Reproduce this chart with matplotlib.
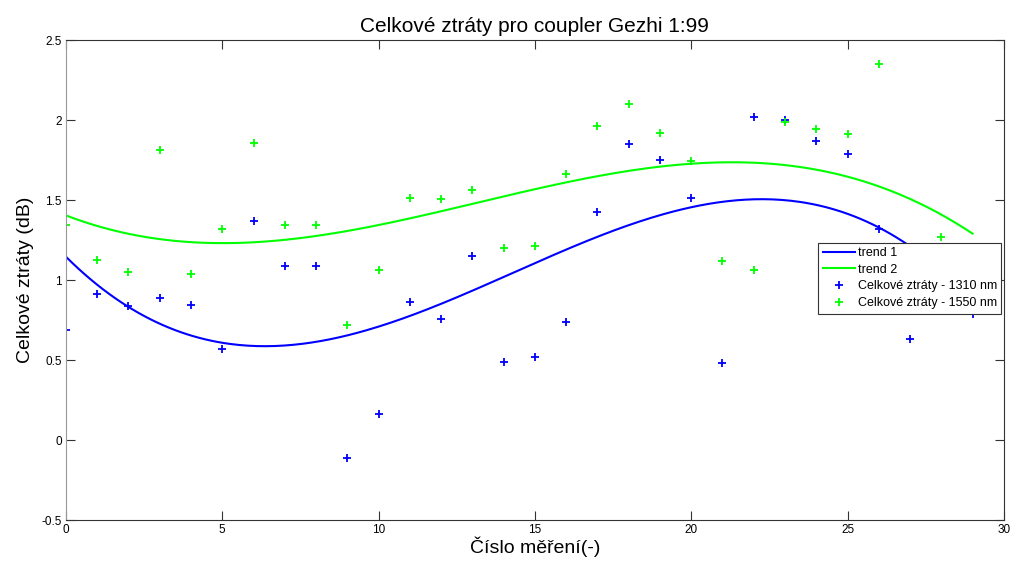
import numpy as np
import matplotlib
matplotlib.use("Agg")
import matplotlib.pyplot as plt
from matplotlib.ticker import FuncFormatter

plt.rcParams["font.family"] = ["Liberation Sans", "DejaVu Sans"]

# Measurement index
measurement = list(range(30))

# Total losses at 1310 nm (dB)
loss_1310 = [0.69, 0.91, 0.84, 0.885, 0.845, 0.57, 1.37, 1.09, 1.085, -0.11,
             0.16, 0.86, 0.755, 1.15, 0.49, 0.52, 0.735, 1.425, 1.85, 1.75,
             1.51, 0.48, 2.02, 2.00, 1.87, 1.79, 1.32, 0.63, 1.00, 0.79]

# Total losses at 1550 nm (dB)
loss_1550 = [1.345, 1.125, 1.05, 1.81, 1.035, 1.32, 1.855, 1.345, 1.345, 0.72,
             1.065, 1.51, 1.505, 1.56, 1.20, 1.21, 1.665, 1.96, 2.10, 1.92,
             1.745, 1.12, 1.065, 1.985, 1.945, 1.91, 2.35, 1.00, 1.27, 1.20]

x = np.array(measurement, dtype=float)
y1 = np.array(loss_1310)
y2 = np.array(loss_1550)

# Cubic trend lines
xs = np.linspace(x.min(), x.max(), 300)
trend1 = np.polyval(np.polyfit(x, y1, 3), xs)
trend2 = np.polyval(np.polyfit(x, y2, 3), xs)

fig = plt.figure(figsize=(10.15, 5.65), dpi=100)
ax = fig.add_axes([0.065, 0.0796, 0.924, 0.8496])

ax.plot(xs, trend1, color="#0000ff", lw=1.5, label="trend 1")
ax.plot(xs, trend2, color="#00ff00", lw=1.5, label="trend 2")
ax.plot(x, y1, "+", color="#0000ff", ms=6, mew=1.3, label="Celkové ztráty - 1310 nm")
ax.plot(x, y2, "+", color="#00ff00", ms=6, mew=1.3, label="Celkové ztráty - 1550 nm")

ax.set_xlim(0, 30)
ax.set_ylim(-0.5, 2.5)
ax.set_xticks(np.arange(0, 31, 5))
ax.set_yticks(np.arange(-0.5, 2.51, 0.5))
ax.yaxis.set_major_formatter(FuncFormatter(lambda v, p: "%g" % round(v, 2)))
ax.tick_params(direction="in", length=6.5, width=0.8, top=True, right=True,
               labelsize=8.5, colors="#333333", labelcolor="black", pad=3)
for side, sp in ax.spines.items():
    sp.set_color("#333333")
    sp.set_linewidth(0.8)
ax.spines["left"].set_color("#999999")

ax.set_title("Celkové ztráty pro coupler Gezhi 1:99", fontsize=15, pad=6)
ax.set_xlabel("Číslo měření(-)", fontsize=14, labelpad=0)
ax.set_ylabel("Celkové ztráty (dB)", fontsize=14, labelpad=5)

leg = ax.legend(loc="upper left", bbox_to_anchor=(0.802, 0.578), fontsize=9,
                frameon=True, fancybox=False, framealpha=1, edgecolor="#333333",
                handlelength=2.6, handletextpad=0.2, borderpad=0.35,
                labelspacing=0.38, borderaxespad=0)
leg.get_frame().set_linewidth(0.8)

fig.savefig("out.png", dpi=100)
